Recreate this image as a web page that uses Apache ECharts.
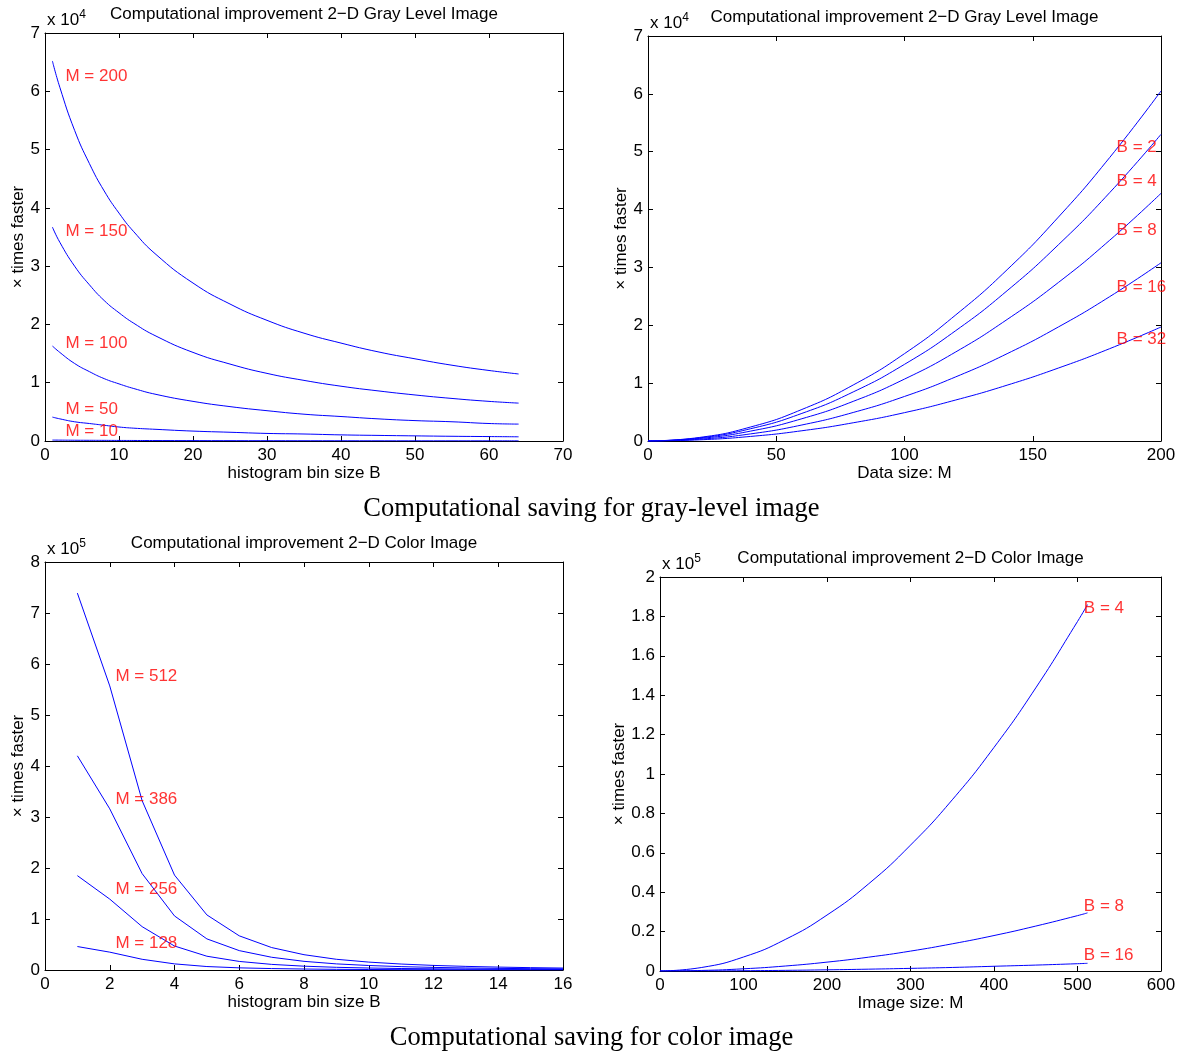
<!DOCTYPE html>
<html><head><meta charset="utf-8">
<script src="https://cdn.jsdelivr.net/npm/echarts/dist/echarts.min.js"></script>
<style>html,body{margin:0;padding:0;background:#fff}#c{width:1183px;height:1053px}</style>
</head><body><div id="c"></div>
<script>
// ---- Panel 1: gray level, speed-up vs histogram bin size B (units of 1e4)
const grayBinSizes = [1,2,4,6,8,10,12,15,20,25,30,35,40,45,50,55,60,64];
const grayM200 = [6.52,6.07,5.33,4.76,4.29,3.91,3.59,3.2,2.71,2.35,2.07,1.85,1.68,1.53,1.41,1.30,1.21,1.15];
const grayM150 = [3.67,3.41,3.0,2.68,2.41,2.2,2.02,1.8,1.52,1.32,1.16,1.04,0.94,0.86,0.79,0.73,0.68,0.65];
const grayM100 = [1.63,1.52,1.33,1.19,1.07,0.98,0.90,0.80,0.68,0.59,0.52,0.46,0.42,0.38,0.35,0.33,0.30,0.29];
const grayM50  = [0.41,0.38,0.33,0.30,0.27,0.24,0.22,0.20,0.17,0.15,0.13,0.12,0.105,0.096,0.088,0.081,0.076,0.072];
const grayM10  = [0.016,0.015,0.013,0.012,0.011,0.0098,0.009,0.008,0.0068,0.0059,0.0052,0.0046,0.0042,0.0038,0.0035,0.0033,0.003,0.0029];
const grayMLabels = [['M = 200',2.7,6.25],['M = 150',2.7,3.59],['M = 100',2.7,1.68],['M = 50',2.7,0.55],['M = 10',2.7,0.17]];

// ---- Panel 2: gray level, speed-up vs data size M (units of 1e4)
const grayDataSizes = [0,20,40,60,80,100,120,140,160,180,200];
const grayB2  = [0,0.061,0.242,0.545,0.968,1.51,2.18,2.96,3.87,4.90,6.05];
const grayB4  = [0,0.053,0.212,0.477,0.848,1.325,1.908,2.597,3.392,4.293,5.3];
const grayB8  = [0,0.043,0.171,0.385,0.685,1.07,1.54,2.10,2.74,3.47,4.28];
const grayB16 = [0,0.031,0.123,0.277,0.493,0.77,1.109,1.509,1.971,2.495,3.08];
const grayB32 = [0,0.020,0.079,0.177,0.315,0.49,0.709,0.965,1.261,1.596,1.97];
const grayBLabels = [['B = 2',182.5,5.08],['B = 4',182.5,4.48],['B = 8',182.5,3.65],['B = 16',182.5,2.66],['B = 32',182.5,1.76]];

// ---- Panel 3: color, speed-up vs histogram bin size B (units of 1e5)
const colorBinSizes = [1,2,3,4,5,6,7,8,9,10,11,12,13,14,15,16];
const colorM512 = [7.39,5.57,3.32,1.86,1.08,0.67,0.44,0.30,0.21,0.155,0.117,0.09,0.071,0.057,0.046,0.038];
const colorM386 = [4.2,3.16,1.89,1.06,0.61,0.38,0.25,0.17,0.12,0.088,0.066,0.051,0.040,0.032,0.026,0.022];
const colorM256 = [1.85,1.39,0.85,0.47,0.27,0.168,0.11,0.075,0.053,0.039,0.029,0.023,0.018,0.014,0.012,0.0095];
const colorM128 = [0.46,0.35,0.21,0.12,0.068,0.042,0.028,0.019,0.013,0.010,0.007,0.006,0.0045,0.0036,0.003,0.0024];
const colorMLabels = [['M = 512',2.16,5.76],['M = 386',2.16,3.35],['M = 256',2.16,1.59],['M = 128',2.16,0.53]];

// ---- Panel 4: color, speed-up vs image size M (units of 1e5)
const colorImageSizes = [0,50,100,150,200,250,300,350,400,450,500,512];
const colorB4  = [0,0.018,0.071,0.16,0.284,0.443,0.639,0.869,1.135,1.437,1.774,1.86];
const colorB8  = [0,0.0028,0.0112,0.0253,0.045,0.0703,0.101,0.138,0.180,0.228,0.281,0.295];
const colorB16 = [0,0.0004,0.0015,0.0033,0.006,0.0093,0.0134,0.018,0.024,0.030,0.037,0.039];
const colorBLabels = [['B = 4',507,1.84],['B = 8',507,0.33],['B = 16',507,0.081]];

const FONT = '"Liberation Sans", Arial, Helvetica, sans-serif';
const SERIF = '"Liberation Serif", "Times New Roman", serif';
const BLUE = '#0000ff', RED = '#ff0000';

const panels = [
  {grid:{left:45, top:33, width:518, height:408}, x:[0,70,10], y:[0,7,1], xName:'histogram bin size B',
   title:'Computational improvement 2\u2212D Gray Level Image', exp:'4',
   lines:[grayM200,grayM150,grayM100,grayM50,grayM10], xs:grayBinSizes, smooth:true, labels:grayMLabels},
  {grid:{left:648, top:36, width:513, height:405}, x:[0,200,50], y:[0,7,1], xName:'Data size: M',
   title:'Computational improvement 2\u2212D Gray Level Image', exp:'4',
   lines:[grayB2,grayB4,grayB8,grayB16,grayB32], xs:grayDataSizes, smooth:true, labels:grayBLabels},
  {grid:{left:45, top:562, width:518, height:408}, x:[0,16,2], y:[0,8,1], xName:'histogram bin size B',
   title:'Computational improvement 2\u2212D Color Image', exp:'5',
   lines:[colorM512,colorM386,colorM256,colorM128], xs:colorBinSizes, smooth:false, labels:colorMLabels},
  {grid:{left:660, top:577, width:501, height:394}, x:[0,600,100], y:[0,2,0.2], xName:'Image size: M',
   title:'Computational improvement 2\u2212D Color Image', exp:'5',
   lines:[colorB4,colorB8,colorB16], xs:colorImageSizes, smooth:true, labels:colorBLabels}
];

const grid = [], xAxis = [], yAxis = [], series = [];
const axLine = {show:true, onZero:false, lineStyle:{color:'#000', width:1}};
const axTick = {show:true, inside:true, length:5, lineStyle:{color:'#000', width:1}};
const txt = {color:'#000', fontSize:17, fontFamily:FONT};

panels.forEach((p, gi) => {
  grid.push(Object.assign({containLabel:false}, p.grid));
  const xb = xAxis.length;
  xAxis.push({type:'value', gridIndex:gi, position:'bottom', min:p.x[0], max:p.x[1], interval:p.x[2],
    axisLine:axLine, axisTick:axTick, splitLine:{show:false},
    axisLabel:Object.assign({margin:6}, txt),
    name:p.xName, nameLocation:'middle', nameGap:24, nameTextStyle:txt});
  xAxis.push({type:'value', gridIndex:gi, position:'top', min:p.x[0], max:p.x[1], interval:p.x[2],
    axisLine:axLine, axisTick:axTick, splitLine:{show:false}, axisLabel:{show:false},
    name:p.title, nameLocation:'middle', nameGap:10, nameTextStyle:txt});
  const yb = yAxis.length;
  yAxis.push({type:'value', gridIndex:gi, position:'left', min:p.y[0], max:p.y[1], interval:p.y[2],
    axisLine:axLine, axisTick:axTick, splitLine:{show:false},
    axisLabel:Object.assign({margin:5}, txt),
    name:'\u00d7 times faster', nameLocation:'middle', nameGap:18, nameRotate:90, nameTextStyle:txt});
  yAxis.push({type:'value', gridIndex:gi, position:'right', min:p.y[0], max:p.y[1], interval:p.y[2],
    axisLine:axLine, axisTick:axTick, splitLine:{show:false}, axisLabel:{show:false}});
  yAxis.push({type:'value', gridIndex:gi, position:'left', min:p.y[0], max:p.y[1],
    axisLine:{show:false, onZero:false}, axisTick:{show:false}, splitLine:{show:false}, axisLabel:{show:false},
    name:'x 10{s|' + p.exp + '}', nameLocation:'end', nameGap:2,
    nameTextStyle:{align:'left', verticalAlign:'bottom', padding:[0,0,0,2],
      rich:{ s:{fontSize:12, fontFamily:FONT, color:'#000', verticalAlign:'top', lineHeight:22} },
      color:'#000', fontSize:17, fontFamily:FONT, lineHeight:22}});
  p.lines.forEach(arr => {
    series.push({type:'line', xAxisIndex:xb, yAxisIndex:yb, smooth:p.smooth,
      symbol:'none', showSymbol:false,
      lineStyle:{color:BLUE, width:1}, silent:true, animation:false,
      data: p.xs.map((v,i) => [v, arr[i]])});
  });
  series.push({type:'scatter', xAxisIndex:xb, yAxisIndex:yb, symbolSize:1, clip:false, silent:true, animation:false,
    itemStyle:{color:'rgba(0,0,0,0)'}, z:5,
    label:{show:true, position:'right', distance:0, color:RED, fontSize:17, fontFamily:FONT,
      formatter: q => q.value[2]},
    data: p.labels.map(l => [l[1], l[2], l[0]])});
});

const chart = echarts.init(document.getElementById('c'), null, {renderer:'canvas'});
chart.setOption({
  backgroundColor:'#fff',
  animation:false,
  title:[
    {text:'Computational saving for gray-level image', left:'center', top:496, padding:0,
     textStyle:{fontFamily:SERIF, fontSize:26.5, fontWeight:'normal', color:'#000'}},
    {text:'Computational saving for color image', left:'center', top:1025, padding:0,
     textStyle:{fontFamily:SERIF, fontSize:26.5, fontWeight:'normal', color:'#000'}}
  ],
  grid, xAxis, yAxis, series
});
</script></body></html>
